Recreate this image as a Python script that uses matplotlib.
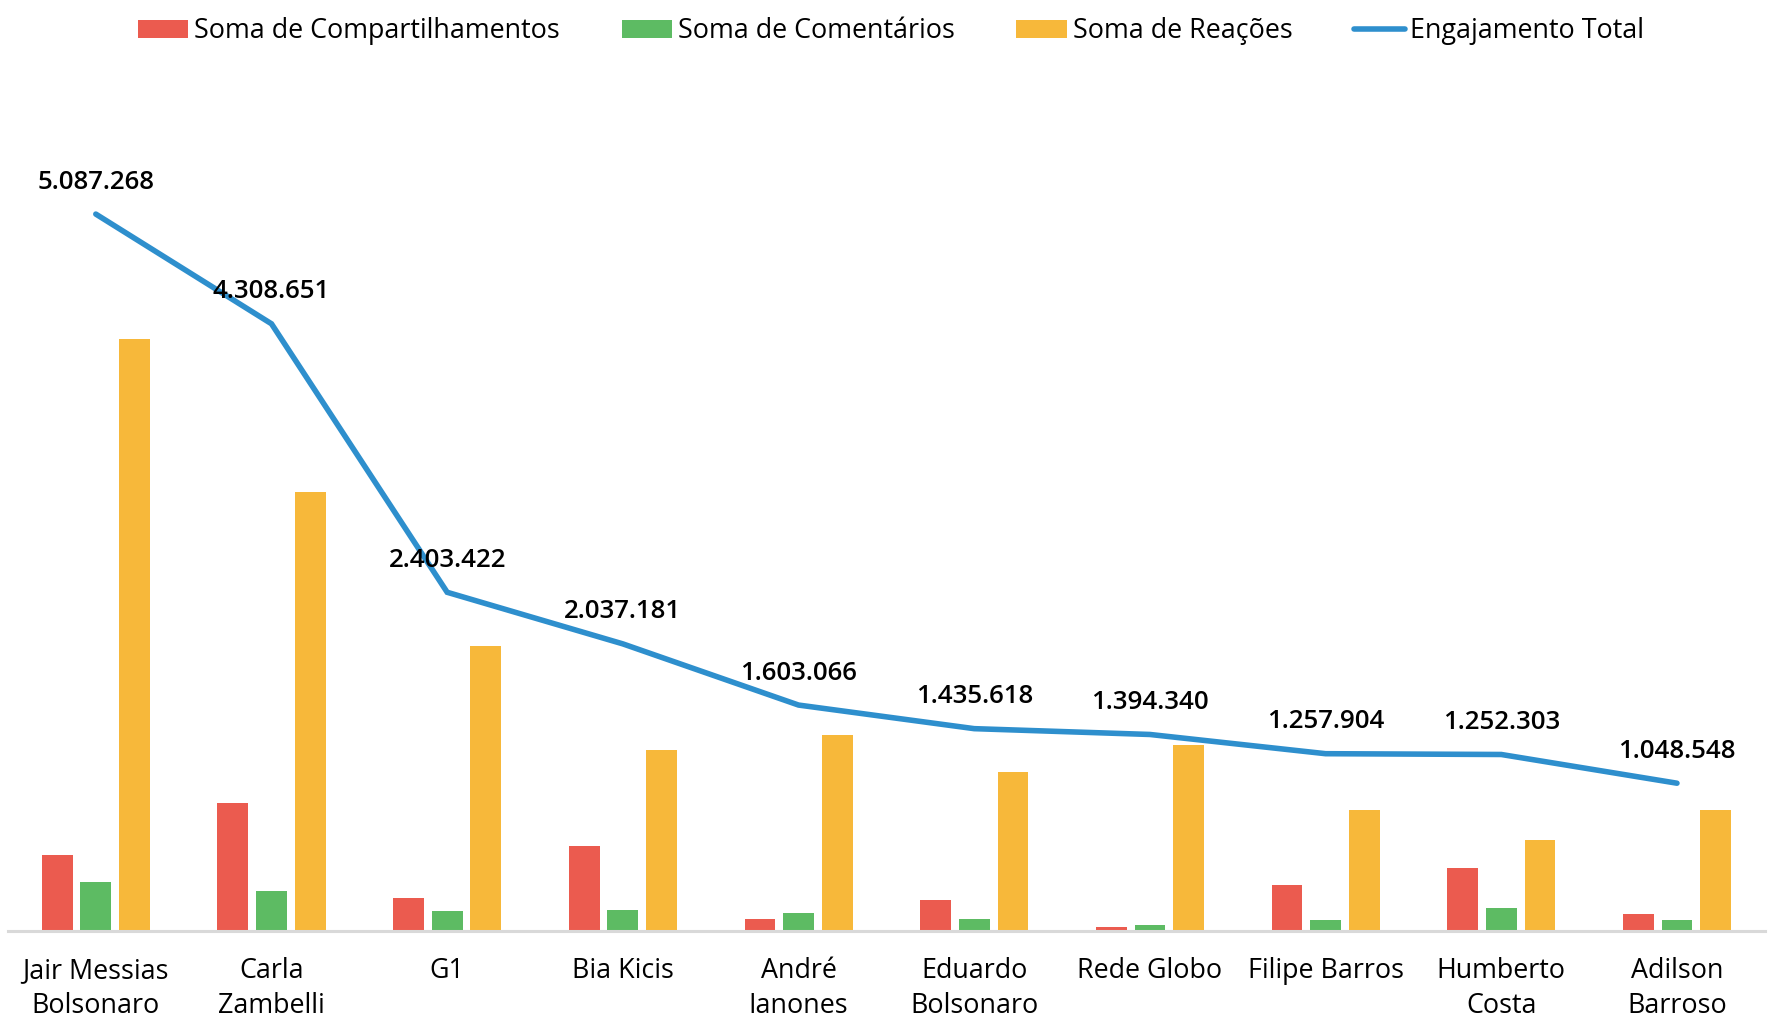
import numpy as np
import matplotlib.pyplot as plt

plt.rcParams['font.family'] = ['Open Sans', 'DejaVu Sans']

categorias = ['Jair Messias\nBolsonaro', 'Carla\nZambelli', 'G1', 'Bia Kicis', 'André\nIanones',
              'Eduardo\nBolsonaro', 'Rede Globo', 'Filipe Barros', 'Humberto\nCosta', 'Adilson\nBarroso']
compartilhamentos = [540800, 908800, 236800, 604800, 84800, 220800, 28800, 324800, 444800, 116800]
comentarios = [348800, 284800, 142400, 150400, 124800, 84800, 44800, 76800, 164800, 76800]
reacoes = [4197668, 3115051, 2024222, 1281981, 1393466, 1130018, 1320740, 856304, 642703, 854948]
engajamento = [5087268, 4308651, 2403422, 2037181, 1603066, 1435618, 1394340, 1257904, 1252303, 1048548]

cor_vermelho = '#EB5B4F'
cor_verde = '#5DBB63'
cor_amarelo = '#F7B83A'
cor_azul = '#2E8FCD'

fig = plt.figure(figsize=(17.68, 10.15), dpi=100)
ax = fig.add_axes([0.0045, 0.0828, 0.9937, 0.833])

x = np.arange(len(categorias))
w = 0.175
off = 0.22
b1 = ax.bar(x - off, compartilhamentos, w, color=cor_vermelho, label='Soma de Compartilhamentos')
b2 = ax.bar(x, comentarios, w, color=cor_verde, label='Soma de Comentários')
b3 = ax.bar(x + off, reacoes, w, color=cor_amarelo, label='Soma de Reações')
l1, = ax.plot(x, engajamento, color=cor_azul, lw=4, solid_capstyle='round', solid_joinstyle='miter',
              label='Engajamento Total')

# rótulos do engajamento total acima da linha
for xi, v in zip(x, engajamento):
    rotulo = f'{v:,}'.replace(',', '.')
    ax.annotate(rotulo, xy=(xi, v), xytext=(0, 23), textcoords='offset points',
                ha='center', va='center', fontsize=18.6, fontweight='semibold', color='black')

ax.set_xlim(-0.5, len(categorias) - 0.5)
ax.set_ylim(0, 6000000)
ax.set_yticks([])
ax.set_xticks(x)
ax.set_xticklabels(categorias, fontsize=19.4, linespacing=1.3)
ax.tick_params(axis='x', length=0, pad=19)
for s in ['top', 'right', 'left']:
    ax.spines[s].set_visible(False)
ax.spines['bottom'].set_color('#D9D9D9')
ax.spines['bottom'].set_linewidth(2.2)

fig.legend([b1, b2, b3, l1],
           ['Soma de Compartilhamentos', 'Soma de Comentários', 'Soma de Reações', 'Engajamento Total'],
           loc='center', bbox_to_anchor=(0.504, 0.969), ncol=4, frameon=False,
           fontsize=19.4, handlelength=1.88, handleheight=0.6, handletextpad=0.2,
           columnspacing=2.3)

fig.savefig('out.png', dpi=100)
